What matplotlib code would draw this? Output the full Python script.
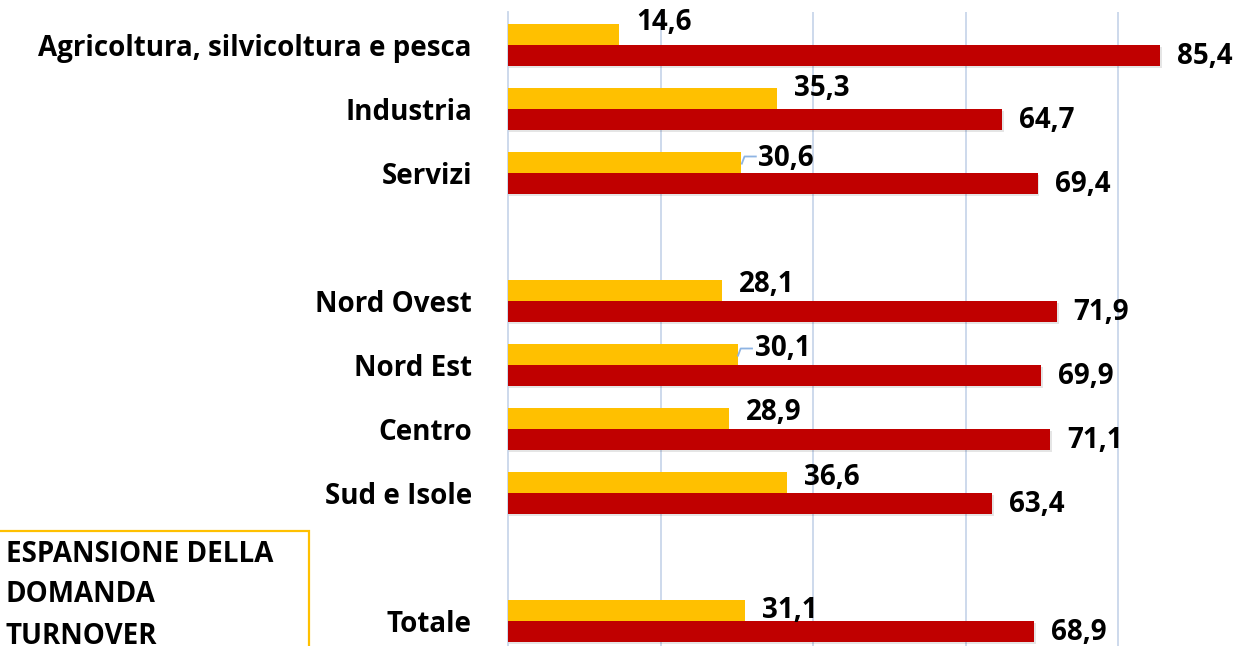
import matplotlib
matplotlib.use("Agg")
import matplotlib.pyplot as plt
from matplotlib.patches import Rectangle

categories = ["Agricoltura, silvicoltura e pesca", "Industria", "Servizi",
              "Nord Ovest", "Nord Est", "Centro", "Sud e Isole", "Totale"]
# row index of each category (gaps between groups)
rows = [0, 1, 2, 4, 5, 6, 7, 9]
espansione = [14.6, 35.3, 30.6, 28.1, 30.1, 28.9, 36.6, 31.1]
turnover = [85.4, 64.7, 69.4, 71.9, 69.9, 71.1, 63.4, 68.9]
series_names = ["ESPANSIONE DELLA\nDOMANDA", "TURNOVER"]

YEL = "#FFC000"
RED = "#C00000"
GRID = "#C9D7EA"
FONT = ["Open Sans", "DejaVu Sans"]
FS = 20

W, H, DPI = 1239, 646, 100
fig = plt.figure(figsize=(W / DPI, H / DPI), dpi=DPI)
x0 = 508
ax = fig.add_axes([x0 / W, 0, 1 - x0 / W, (H - 12) / H])
pxu = 7.63  # px per unit
ax.set_xlim(0, (W - x0) / pxu)
ax.set_ylim(9 + 25 / 64, -33 / 64)

bh = 21 / 64
yb = [r - bh / 2 for r in rows]
rb = [r + bh / 2 for r in rows]
ax.barh(yb, espansione, height=bh, color=YEL, zorder=3)
ax.barh(rb, turnover, height=bh, color=RED, zorder=3)

# subtle shadows
for y, v in zip(rb, turnover):
    ax.barh(y + 0.03, v + 0.25, height=bh, color="#000000", alpha=0.10, zorder=2)

ax.set_xticks([20, 40, 60, 80])
ax.xaxis.grid(True, color=GRID, lw=1.3, zorder=0)
ax.tick_params(axis="x", length=0, labelbottom=False)
ax.set_yticks(rows)
ax.set_yticklabels(categories, fontsize=FS, fontweight="bold", family=FONT)
ax.tick_params(axis="y", length=0, pad=26)
for s in ["top", "right", "bottom"]:
    ax.spines[s].set_visible(False)
ax.spines["left"].set_color(GRID)
ax.spines["left"].set_linewidth(1.3)

def fmt(v):
    return f"{v:.1f}".replace(".", ",")

yel_dy = [-12, -10, -4, -6, -6, -6, -5, 0]  # px offsets of the yellow labels
for y, v, dy in zip(yb, espansione, yel_dy):
    ax.annotate(fmt(v), (v, y), xytext=(17 / 1.389, -dy / 1.389), textcoords="offset points",
                ha="left", va="center", fontsize=FS, fontweight="bold", family=FONT, zorder=5)
for y, v in zip(rb, turnover):
    ax.annotate(fmt(v), (v, y), xytext=(17 / 1.389, -1 / 1.389), textcoords="offset points",
                ha="left", va="center", fontsize=FS, fontweight="bold", family=FONT, zorder=5)

# leader lines for the shifted labels (Servizi, Nord Est)
for i in [2, 4]:
    v, y = espansione[i], yb[i]
    ax.plot([v, v + 0.4, v + 2.0], [y + 2 / 64, y - 6 / 64, y - 6 / 64],
            color="#8EB4E3", lw=1.3, zorder=4, solid_capstyle="butt")

# legend box (cropped, bottom-left)
lax = fig.add_axes([0, 0, 310 / W, 116 / H])
lax.set_xlim(0, 310)
lax.set_ylim(0, 116)
lax.axis("off")
lax.add_patch(Rectangle((-5, -20), 313.5, 135, fill=False, ec=YEL, lw=1.6, clip_on=False))
lax.text(6, 91, series_names[0].split("\n")[0], fontsize=FS, fontweight="bold", family=FONT, va="center")
lax.text(6, 52, series_names[0].split("\n")[1], fontsize=FS, fontweight="bold", family=FONT, va="center")
lax.text(6, 9, series_names[1], fontsize=FS, fontweight="bold", family=FONT, va="center")

fig.savefig("out.png", dpi=DPI)
